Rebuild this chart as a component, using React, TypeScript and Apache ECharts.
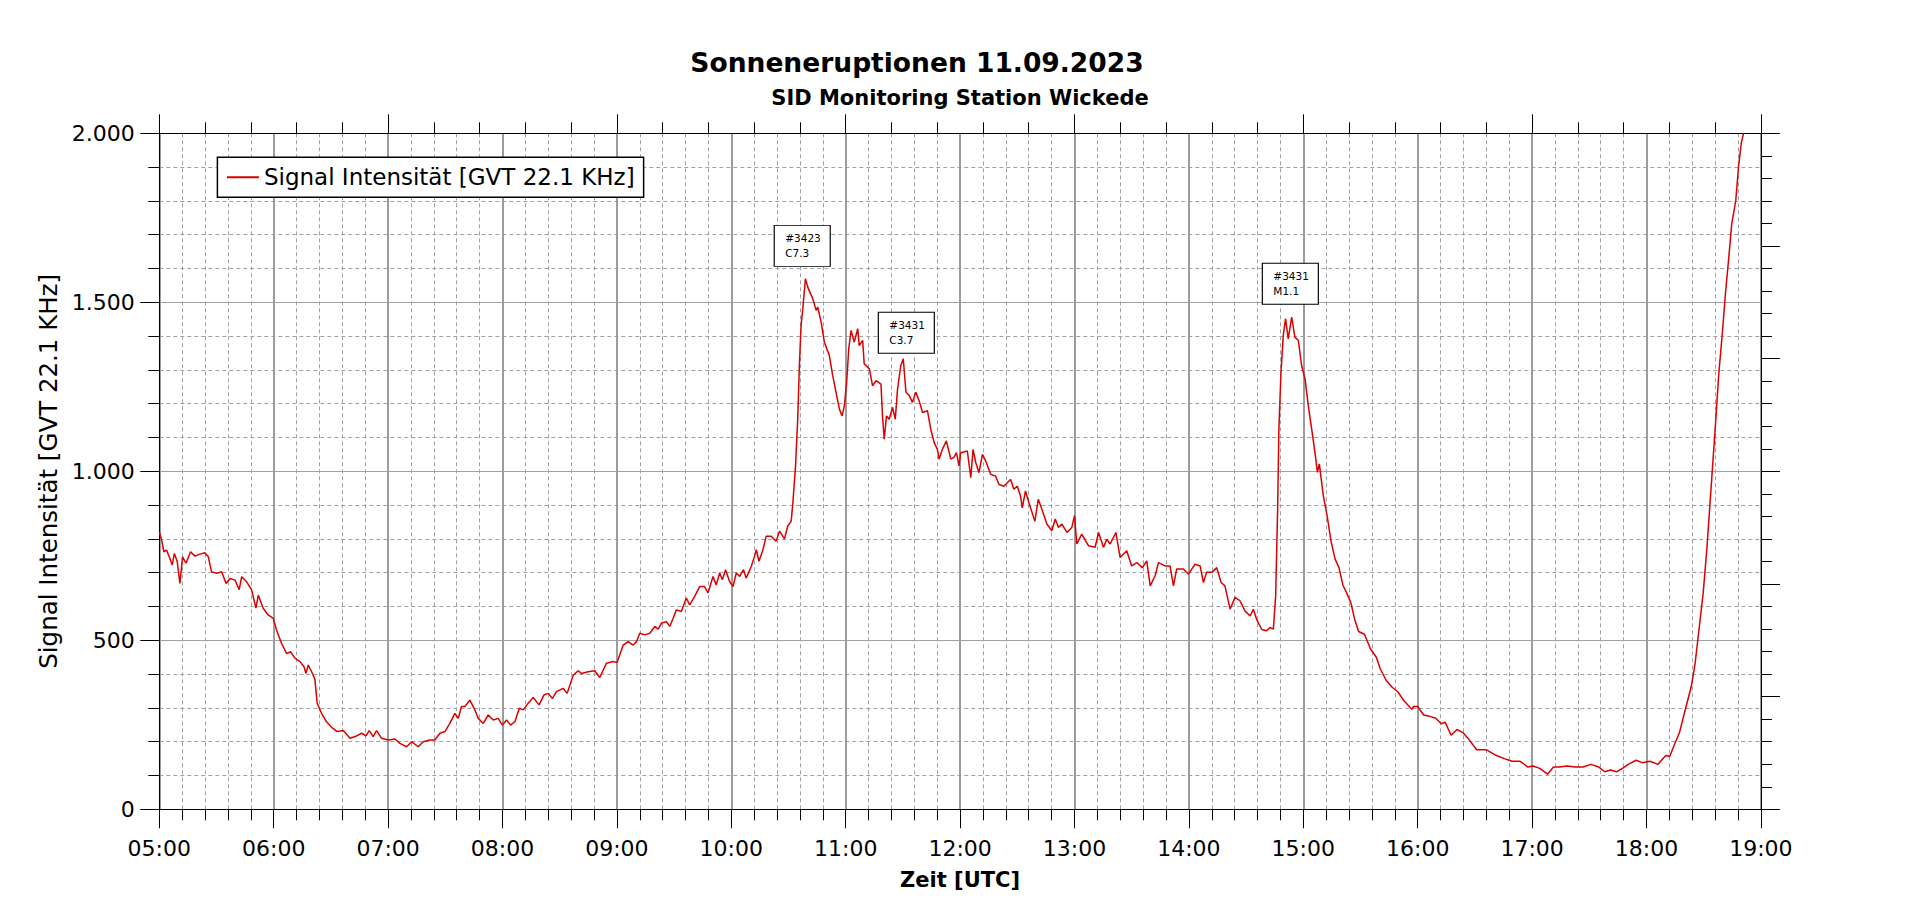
import { useEffect, useRef } from "react";
import * as echarts from "echarts";

// time in minutes since 00:00 UTC
const timeMin = [
  300, 301.2, 302.4, 303.8, 305.2, 306.8, 307.9, 309.4, 310.8, 312.2, 314, 316.4, 318.7, 321.3, 323.9, 325.7,
  327.4, 330.1, 332.7, 335, 337.1, 339.7, 341.9, 343.2, 345.8, 348.4, 350.7, 351.9, 354.5, 357.1, 359.8, 361.5,
  364.1, 366.8, 368.9, 371.1, 373.8, 375.9, 376.9, 378.1, 379.9, 381.6, 382.8, 385.1, 387.7, 390.9, 393.3, 396.5,
  400, 403.5, 406.1, 408.4, 410.1, 412.2, 413.9, 416.6, 420.1, 423.6, 426.2, 429.7, 432.3, 435.8, 438.4, 441.9,
  444.5, 447.2, 449.8, 452.4, 455, 456.8, 458.5, 460.3, 462.9, 465.5, 467.3, 469.9, 472.5, 475.1, 477.7, 480,
  482.1, 484.2, 486.5, 488.8, 490.9, 493.5, 496.1, 499.2, 501.7, 504, 506.2, 508.3, 511.8, 513.9, 517.1, 519.7,
  521.4, 524.9, 528.4, 531, 534.5, 538, 540.1, 543.3, 545.9, 548.5, 550.3, 552, 554.6, 557.3, 559.9, 561.6,
  563.4, 566, 567.7, 569.5, 571.2, 573.8, 576.4, 578.2, 580.8, 583.4, 586, 587.8, 590.4, 592.1, 593.9, 595.3,
  597, 599.1, 600.9, 602.6, 604.4, 606.4, 607.8, 610.5, 612.2, 613.1, 614.5, 616.6, 618.3, 620.9, 623.5, 625.3,
  627.9, 629.6, 631.4, 632.3, 633.7, 634.9, 635.7, 636.6, 637.5, 638.9, 640.1, 642.7, 644.5, 645.3, 647.1, 648.8,
  651.4, 653.2, 654.9, 656.7, 658.1, 659.3, 660.5, 661.6, 662.8, 664.5, 666.3, 667.1, 668.9, 669.7, 672.4, 674.1,
  675.9, 678.5, 679.3, 680.2, 681.4, 682.8, 684.6, 686, 687.2, 688.9, 690.2, 691.6, 693.3, 695, 696.8, 698.5,
  700.3, 702.9, 704.6, 706.4, 708.1, 709, 710.7, 712.8, 715.1, 716.8, 718.1, 719.4, 720.3, 723.8, 725.6, 726.8,
  728.2, 729.9, 731.7, 733.4, 736, 738.6, 740.4, 743, 744.7, 746.5, 748.2, 750, 751.7, 752.6, 754.3, 756.1,
  757.8, 759.2, 761, 762.9, 765.5, 768.1, 769.9, 771.6, 773.4, 776, 778.6, 780, 781.2, 783.8, 787.3, 790.8,
  792.6, 795.2, 796.9, 798.7, 801.7, 803.9, 807.4, 810, 812.7, 815.6, 817.9, 819.7, 822.3, 824, 827.5, 830.1,
  831.9, 833.6, 837.1, 839.7, 843.2, 845.9, 847.6, 849.3, 852, 854.6, 856.9, 858.9, 861.6, 864.2, 866.8, 869.4,
  872.1, 873.8, 875.5, 878.2, 880.8, 882.5, 884.3, 885.5, 886.5, 887.2, 888.3, 889.5, 890.7, 892.1, 893.9, 895.6,
  897.4, 899.1, 900.9, 902.6, 904.4, 906.3, 907.4, 908.4, 910.5, 912.5, 914.6, 916.7, 918.7, 920.8, 922.9, 924.9,
  927, 929, 932.1, 935.2, 938.3, 940.4, 943.5, 946.6, 949.7, 952.8, 956.9, 957.9, 960, 963.1, 966.2, 969.3,
  972.4, 974.4, 977.5, 980.6, 983.7, 986.8, 990.9, 996.1, 1001.3, 1005.4, 1009.5, 1013.7, 1017.8, 1020.5, 1024, 1028.1,
  1031.2, 1034.3, 1038.4, 1042.6, 1046.7, 1050.8, 1055, 1058.1, 1061.2, 1064.3, 1067.4, 1070.4, 1074.6, 1077.7, 1081.8, 1086,
  1090.1, 1092.2, 1094.2, 1097.3, 1100.4, 1103.5, 1105.5, 1107.6, 1109.7, 1111.7, 1113.8, 1115.9, 1117.9, 1120, 1121.4, 1123.1,
  1124.7, 1126.8, 1128.3, 1129.7, 1130.9,
];

const signal = [
  821, 797, 762, 767, 747, 723, 757, 733, 668, 747, 728, 762, 749, 755, 759, 747,
  703, 698, 703, 668, 683, 678, 650, 688, 673, 649, 595, 634, 595, 575, 565, 530,
  491, 461, 466, 447, 437, 422, 402, 427, 407, 385, 314, 284, 259, 240, 230, 233,
  210, 217, 225, 217, 233, 215, 233, 210, 205, 208, 195, 185, 200, 185, 200, 205,
  205, 225, 230, 254, 284, 269, 304, 304, 323, 294, 269, 254, 279, 264, 269, 249,
  264, 249, 259, 299, 294, 314, 331, 309, 338, 343, 328, 348, 358, 343, 397, 410,
  402, 407, 410, 390, 432, 437, 434, 486, 496, 486, 496, 521, 516, 521, 541, 533,
  551, 555, 541, 565, 590, 585, 625, 605, 630, 659, 659, 640, 689, 664, 699, 679,
  709, 674, 659, 699, 689, 709, 684, 719, 749, 768, 734, 768, 808, 808, 793, 823,
  800, 838, 852, 907, 1016, 1164, 1313, 1432, 1481, 1570, 1545, 1511, 1476, 1486, 1442, 1382,
  1343, 1283, 1234, 1184, 1164, 1194, 1263, 1362, 1417, 1382, 1422, 1372, 1387, 1318, 1303, 1253,
  1268, 1258, 1164, 1095, 1164, 1154, 1189, 1154, 1244, 1313, 1333, 1234, 1224, 1204, 1234, 1209,
  1174, 1179, 1125, 1085, 1065, 1036, 1065, 1090, 1036, 1041, 1055, 1016, 1055, 1060, 981, 1065,
  1026, 996, 1050, 1031, 991, 986, 961, 956, 966, 976, 947, 956, 927, 892, 942, 907,
  877, 852, 917, 888, 844, 824, 859, 834, 844, 819, 834, 869, 785, 814, 780, 775,
  819, 775, 799, 785, 819, 745, 765, 720, 730, 715, 735, 661, 691, 730, 720, 720,
  661, 711, 711, 696, 725, 720, 671, 701, 701, 715, 671, 661, 592, 627, 617, 587,
  572, 592, 562, 532, 528, 538, 533, 631, 878, 1125, 1293, 1402, 1452, 1392, 1456, 1397,
  1387, 1313, 1274, 1195, 1125, 1048, 997, 1022, 928, 868, 791, 740, 715, 663, 638, 612,
  561, 526, 518, 475, 450, 415, 381, 361, 347, 321, 296, 304, 304, 279, 275, 270,
  253, 258, 219, 236, 227, 207, 176, 176, 159, 150, 142, 142, 125, 128, 121, 104,
  125, 125, 128, 125, 125, 133, 125, 111, 116, 111, 121, 133, 145, 138, 142, 133,
  159, 156, 185, 227, 296, 364, 432, 535, 638, 774, 945, 1116, 1287, 1424, 1526, 1629,
  1732, 1800, 1903, 1971, 2000,
];

const hourLabels = [
  "05:00", "06:00", "07:00", "08:00", "09:00", "10:00", "11:00", "12:00",
  "13:00", "14:00", "15:00", "16:00", "17:00", "18:00", "19:00",
];
const yTickLabels = ["0", "500", "1.000", "1.500", "2.000"];

const annoTimes = [637.2, 691.8, 893.2];
const annoValues = [1667, 1410, 1555];
const annoIds = ["#3423", "#3431", "#3431"];
const annoClasses = ["C7.3", "C3.7", "M1.1"];

const seriesName = "Signal Intensität [GVT 22.1 KHz]";

export default function App() {
  const ref = useRef<HTMLDivElement>(null);

  useEffect(() => {
    document.body.style.margin = "0";
    const chart = echarts.init(ref.current!, null, { renderer: "svg" });
    const font = "DejaVu Sans";
    const black = "#000";
    const axisLine = { show: true, onZero: false, lineStyle: { color: black, width: 1 } };
    const tick = { show: true, length: 19, lineStyle: { color: black, width: 1 } };
    const minor = { show: true, splitNumber: 5, length: 11, lineStyle: { color: black, width: 1 } };
    const dashed = { show: true, lineStyle: { color: "#a0a0a0", width: 1, type: [4, 3] } };

    const option: any = {
      animation: false,
      backgroundColor: "#fff",
      grid: { left: 159.3, right: 159.1, top: 133.3, bottom: 94.7 },
      graphic: [
        {
          type: "text",
          x: 917,
          y: 62,
          style: {
            text: "Sonneneruptionen 11.09.2023",
            fontFamily: font,
            fontSize: 26.5,
            fontWeight: "bold",
            fill: black,
            align: "center",
            verticalAlign: "middle",
          },
        },
        {
          type: "text",
          x: 960,
          y: 98,
          style: {
            text: "SID Monitoring Station Wickede",
            fontFamily: font,
            fontSize: 21,
            fontWeight: "bold",
            fill: black,
            align: "center",
            verticalAlign: "middle",
          },
        },
      ],
      legend: {
        show: true,
        left: 217.4,
        top: 157.3,
        orient: "horizontal",
        selectedMode: false,
        backgroundColor: "#fff",
        borderColor: black,
        borderWidth: 1.5,
        borderRadius: 0,
        padding: [8.5, 9, 8.5, 9.5],
        icon: "rect",
        itemWidth: 32,
        itemHeight: 2,
        itemGap: 0,
        textStyle: { fontFamily: font, fontSize: 23, color: black, lineHeight: 23 },
        data: [seriesName],
      },
      xAxis: [
        {
          type: "value",
          position: "bottom",
          min: 300,
          max: 1140,
          interval: 60,
          axisLine,
          axisTick: tick,
          minorTick: minor,
          axisLabel: {
            margin: 28,
            color: black,
            fontFamily: font,
            fontSize: 22,
            formatter: (v: number) => hourLabels[Math.round((v - 300) / 60)],
          },
          splitLine: { show: true, lineStyle: { color: "#9c9c9c", width: 2 } },
          minorSplitLine: dashed,
          name: "Zeit [UTC]",
          nameLocation: "middle",
          nameGap: 60,
          nameTextStyle: { fontFamily: font, fontSize: 21, fontWeight: "bold", color: black },
        },
        {
          type: "value",
          position: "top",
          min: 0,
          max: 840,
          interval: 120,
          axisLine,
          axisTick: tick,
          minorTick: minor,
          axisLabel: { show: false },
          splitLine: { show: false },
        },
      ],
      yAxis: [
        {
          type: "value",
          position: "left",
          min: 0,
          max: 2000,
          interval: 500,
          axisLine,
          axisTick: tick,
          minorTick: minor,
          axisLabel: {
            margin: 24.5,
            color: black,
            fontFamily: font,
            fontSize: 22,
            formatter: (v: number) => yTickLabels[Math.round(v / 500)],
          },
          splitLine: { show: true, lineStyle: { color: "#a0a0a0", width: 1.2 } },
          minorSplitLine: dashed,
          name: seriesName,
          nameLocation: "middle",
          nameGap: 91,
          nameTextStyle: { fontFamily: font, fontSize: 24.5, color: black },
        },
        {
          type: "value",
          position: "right",
          min: 0,
          max: 6,
          interval: 1,
          axisLine,
          axisTick: tick,
          minorTick: minor,
          axisLabel: { show: false },
          splitLine: { show: false },
        },
      ],
      series: [
        {
          type: "line",
          name: seriesName,
          xAxisIndex: 0,
          yAxisIndex: 0,
          data: timeMin.map((t, i) => [t, signal[i]]),
          showSymbol: false,
          symbol: "none",
          color: "#dc0000",
          lineStyle: { color: "#dc0000", width: 1.5 },
          clip: true,
          z: 3,
          markPoint: {
            silent: true,
            symbol: "rect",
            symbolSize: [56, 41],
            itemStyle: { color: "#fff", borderColor: black, borderWidth: 1 },
            label: {
              show: true,
              position: "inside",
              align: "left",
              offset: [-17, 0],
              formatter: (p: any) => p.name,
              fontFamily: font,
              fontSize: 10.5,
              lineHeight: 15,
              color: black,
            },
            data: annoTimes.map((t, i) => ({
              name: annoIds[i] + "\n" + annoClasses[i],
              coord: [t, annoValues[i]],
            })),
          },
        },
      ],
    };

    chart.setOption(option);
    return () => chart.dispose();
  }, []);

  return <div ref={ref} style={{ width: 1920, height: 904 }} />;
}
